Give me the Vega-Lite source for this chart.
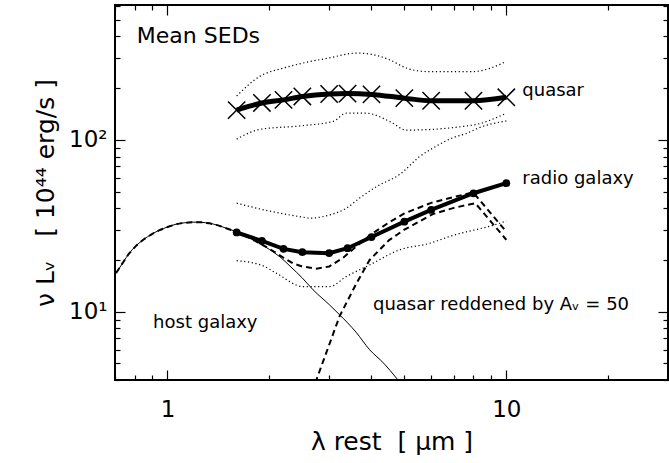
{
  "$schema": "https://vega.github.io/schema/vega-lite/v6.json",
  "width": 553,
  "height": 375,
  "autosize": "none",
  "padding": {"left": 115, "top": 5, "right": 1, "bottom": 83},
  "background": "white",
  "config": {
    "font": "DejaVu Sans",
    "view": {"stroke": "black", "strokeWidth": 2},
    "axis": {"domain": false, "grid": false, "tickColor": "black", "labelColor": "black", "titleColor": "black", "tickWidth": 1.2, "titleFontWeight": "normal", "labelFont": "DejaVu Sans", "titleFont": "DejaVu Sans"}
  },
  "datasets": {
    "host": [
      {"x": 0.68, "y": 15.0}, {"x": 0.7, "y": 16.4}, {"x": 0.74, "y": 19.4}, {"x": 0.77, "y": 21.8}, {"x": 0.81, "y": 24.3}, {"x": 0.85, "y": 26.3},
      {"x": 0.9, "y": 28.3}, {"x": 0.95, "y": 29.9}, {"x": 1.0, "y": 31.1}, {"x": 1.06, "y": 32.3}, {"x": 1.12, "y": 32.9}, {"x": 1.19, "y": 33.2},
      {"x": 1.26, "y": 33.1}, {"x": 1.33, "y": 32.7}, {"x": 1.41, "y": 31.8}, {"x": 1.49, "y": 30.6}, {"x": 1.58, "y": 29.4}, {"x": 1.67, "y": 28.0},
      {"x": 1.77, "y": 26.5}, {"x": 1.87, "y": 25.0}, {"x": 2.0, "y": 23.0}, {"x": 2.15, "y": 20.8}, {"x": 2.3, "y": 18.4}, {"x": 2.5, "y": 15.7},
      {"x": 2.69, "y": 13.4}, {"x": 3.0, "y": 11.0}, {"x": 3.22, "y": 9.6}, {"x": 3.6, "y": 7.6}, {"x": 3.95, "y": 6.0}, {"x": 4.35, "y": 5.0},
      {"x": 4.74, "y": 4.1}, {"x": 5.0, "y": 3.6}
    ],
    "composite": [
      {"x": 0.68, "y": 15.0}, {"x": 0.7, "y": 16.4}, {"x": 0.74, "y": 19.4}, {"x": 0.77, "y": 21.8}, {"x": 0.81, "y": 24.3}, {"x": 0.85, "y": 26.3},
      {"x": 0.9, "y": 28.3}, {"x": 0.95, "y": 29.9}, {"x": 1.0, "y": 31.1}, {"x": 1.06, "y": 32.3}, {"x": 1.12, "y": 32.9}, {"x": 1.19, "y": 33.2},
      {"x": 1.26, "y": 33.1}, {"x": 1.33, "y": 32.7}, {"x": 1.41, "y": 31.8}, {"x": 1.49, "y": 30.6}, {"x": 1.58, "y": 29.4}, {"x": 1.67, "y": 28.0},
      {"x": 1.77, "y": 26.5}, {"x": 1.87, "y": 25.0}, {"x": 2.0, "y": 23.2}, {"x": 2.2, "y": 20.6}, {"x": 2.35, "y": 19.1}, {"x": 2.5, "y": 18.3},
      {"x": 2.75, "y": 17.8}, {"x": 3.0, "y": 18.3}, {"x": 3.3, "y": 20.6}, {"x": 3.6, "y": 23.9}, {"x": 4.0, "y": 28.3}, {"x": 4.5, "y": 33.0},
      {"x": 5.0, "y": 37.3}, {"x": 6.0, "y": 43.0}, {"x": 7.0, "y": 46.5}, {"x": 7.98, "y": 49.5}, {"x": 10.0, "y": 29.2}
    ],
    "reddened": [
      {"x": 2.6, "y": 3.0}, {"x": 2.75, "y": 4.0}, {"x": 3.22, "y": 9.4}, {"x": 3.61, "y": 14.6}, {"x": 3.95, "y": 20.0}, {"x": 4.5, "y": 26.0},
      {"x": 5.0, "y": 30.0}, {"x": 6.07, "y": 37.0}, {"x": 7.0, "y": 40.2}, {"x": 8.1, "y": 42.8}, {"x": 10.0, "y": 26.2}
    ],
    "quasar": [
      {"x": 1.6, "y": 149}, {"x": 1.9, "y": 164}, {"x": 2.2, "y": 171}, {"x": 2.5, "y": 179}, {"x": 3.0, "y": 185}, {"x": 3.4, "y": 186},
      {"x": 4.0, "y": 184}, {"x": 5.0, "y": 175}, {"x": 6.0, "y": 169}, {"x": 8.0, "y": 169}, {"x": 10.0, "y": 177}
    ],
    "radio": [
      {"x": 1.6, "y": 28.9}, {"x": 1.9, "y": 25.8}, {"x": 2.2, "y": 23.2}, {"x": 2.5, "y": 22.2}, {"x": 3.0, "y": 21.9}, {"x": 3.4, "y": 23.4},
      {"x": 4.0, "y": 27.2}, {"x": 5.0, "y": 33.4}, {"x": 6.0, "y": 39.1}, {"x": 8.0, "y": 48.9}, {"x": 10.0, "y": 56.0}
    ],
    "qhi": [
      {"x": 1.6, "y": 180}, {"x": 1.87, "y": 234}, {"x": 2.2, "y": 262}, {"x": 2.51, "y": 280}, {"x": 3.0, "y": 300}, {"x": 3.6, "y": 320},
      {"x": 4.0, "y": 315}, {"x": 4.53, "y": 292}, {"x": 5.07, "y": 262}, {"x": 5.81, "y": 250}, {"x": 7.97, "y": 250}, {"x": 10.0, "y": 286}
    ],
    "qlo": [
      {"x": 1.6, "y": 101}, {"x": 1.87, "y": 115}, {"x": 2.5, "y": 121}, {"x": 3.08, "y": 128}, {"x": 3.37, "y": 143}, {"x": 3.86, "y": 143},
      {"x": 4.53, "y": 128}, {"x": 5.07, "y": 114}, {"x": 7.97, "y": 122}, {"x": 10.0, "y": 143}
    ],
    "rhi": [
      {"x": 1.6, "y": 42.8}, {"x": 2.0, "y": 38.5}, {"x": 2.51, "y": 35.5}, {"x": 2.63, "y": 35.0}, {"x": 3.0, "y": 36.5}, {"x": 3.37, "y": 40.0},
      {"x": 3.7, "y": 46.0}, {"x": 4.14, "y": 53.5}, {"x": 4.85, "y": 63.0}, {"x": 5.55, "y": 80.0}, {"x": 6.07, "y": 89.5}, {"x": 6.96, "y": 103},
      {"x": 7.62, "y": 109}, {"x": 8.34, "y": 118}, {"x": 10.0, "y": 129}
    ],
    "rlo": [
      {"x": 1.6, "y": 19.8}, {"x": 1.9, "y": 18.6}, {"x": 2.1, "y": 16.7}, {"x": 2.51, "y": 14.0}, {"x": 3.01, "y": 14.0}, {"x": 3.37, "y": 16.0},
      {"x": 3.95, "y": 18.7}, {"x": 4.84, "y": 22.9}, {"x": 5.94, "y": 25.0}, {"x": 6.8, "y": 27.4}, {"x": 9.56, "y": 32.7}, {"x": 10.0, "y": 33.7}
    ],
    "titles": [
      {"x": 0.812, "y": 367, "text": "Mean SEDs"}
    ],
    "notes": [
      {"x": 11.15, "y": 179, "text": "quasar"},
      {"x": 11.15, "y": 55.2, "text": "radio galaxy"},
      {"x": 0.907, "y": 8.0, "text": "host galaxy"},
      {"x": 4.04, "y": 10.2, "text": "quasar reddened by Aᵥ = 50"}
    ]
  },
  "resolve": {"axis": {"x": "independent", "y": "independent"}},
  "layer": [
    {
      "data": {"name": "host"},
      "mark": {"type": "line", "clip": true, "color": "black", "strokeWidth": 1, "interpolate": "monotone"},
      "encoding": {
        "x": {"field": "x", "type": "quantitative",
          "scale": {"type": "log", "domain": [0.7, 30], "nice": false, "zero": false},
          "axis": {"orient": "bottom", "title": "λ rest\u00a0\u00a0[ μm ]", "titleFontSize": 25, "titlePadding": 8,
            "values": [0.7, 0.8, 0.9, 1, 2, 3, 4, 5, 6, 7, 8, 9, 10, 20, 30],
            "labelExpr": "datum.value == 1 ? '1' : (datum.value == 10 ? '10' : '')",
            "labelFontSize": 23, "labelPadding": 28, "labelFlush": false,
            "tickSize": {"condition": {"test": "datum.value == 1 || datum.value == 10", "value": -10}, "value": -5}}},
        "y": {"field": "y", "type": "quantitative",
          "scale": {"type": "log", "domain": [4, 610], "nice": false, "zero": false},
          "axis": {"orient": "left", "title": "ν Lᵥ\u00a0\u00a0\u00a0[ 10⁴⁴ erg/s ]", "titleFontSize": 25, "titlePadding": 10,
            "values": [4, 5, 6, 7, 8, 9, 10, 20, 30, 40, 50, 60, 70, 80, 90, 100, 200, 300, 400, 500, 600],
            "labelExpr": "datum.value == 10 ? '10¹' : (datum.value == 100 ? '10²' : '')",
            "labelFontSize": 23, "labelPadding": 18, "labelFlush": false,
            "tickSize": {"condition": {"test": "datum.value == 10 || datum.value == 100", "value": -10}, "value": -5}}}
      }
    },
    {
      "data": {"name": "composite"},
      "mark": {"type": "line", "clip": true, "color": "black", "strokeWidth": 2, "strokeDash": [6, 4]},
      "encoding": {
        "x": {"field": "x", "type": "quantitative",
          "axis": {"orient": "top", "title": null, "labels": false,
            "values": [0.7, 0.8, 0.9, 1, 2, 3, 4, 5, 6, 7, 8, 9, 10, 20, 30],
            "tickSize": {"condition": {"test": "datum.value == 1 || datum.value == 10", "value": -10}, "value": -5}}},
        "y": {"field": "y", "type": "quantitative",
          "axis": {"orient": "right", "title": null, "labels": false,
            "values": [4, 5, 6, 7, 8, 9, 10, 20, 30, 40, 50, 60, 70, 80, 90, 100, 200, 300, 400, 500, 600],
            "tickSize": {"condition": {"test": "datum.value == 10 || datum.value == 100", "value": -10}, "value": -5}}}
      }
    },
    {
      "data": {"name": "reddened"},
      "mark": {"type": "line", "clip": true, "color": "black", "strokeWidth": 2, "strokeDash": [6, 4]},
      "encoding": {
        "x": {"field": "x", "type": "quantitative", "axis": null},
        "y": {"field": "y", "type": "quantitative", "axis": null}
      }
    },
    {
      "data": {"name": "qhi"},
      "mark": {"type": "line", "color": "black", "strokeWidth": 1.2, "strokeDash": [1.2, 2.6], "interpolate": "monotone"},
      "encoding": {
        "x": {"field": "x", "type": "quantitative", "axis": null},
        "y": {"field": "y", "type": "quantitative", "axis": null}
      }
    },
    {
      "data": {"name": "qlo"},
      "mark": {"type": "line", "color": "black", "strokeWidth": 1.2, "strokeDash": [1.2, 2.6], "interpolate": "monotone"},
      "encoding": {
        "x": {"field": "x", "type": "quantitative", "axis": null},
        "y": {"field": "y", "type": "quantitative", "axis": null}
      }
    },
    {
      "data": {"name": "rhi"},
      "mark": {"type": "line", "color": "black", "strokeWidth": 1.2, "strokeDash": [1.2, 2.6], "interpolate": "monotone"},
      "encoding": {
        "x": {"field": "x", "type": "quantitative", "axis": null},
        "y": {"field": "y", "type": "quantitative", "axis": null}
      }
    },
    {
      "data": {"name": "rlo"},
      "mark": {"type": "line", "color": "black", "strokeWidth": 1.2, "strokeDash": [1.2, 2.6], "interpolate": "monotone"},
      "encoding": {
        "x": {"field": "x", "type": "quantitative", "axis": null},
        "y": {"field": "y", "type": "quantitative", "axis": null}
      }
    },
    {
      "data": {"name": "quasar"},
      "mark": {"type": "line", "color": "black", "strokeWidth": 5, "interpolate": "monotone"},
      "encoding": {
        "x": {"field": "x", "type": "quantitative", "axis": null},
        "y": {"field": "y", "type": "quantitative", "axis": null}
      }
    },
    {
      "data": {"name": "quasar"},
      "mark": {"type": "point", "shape": "M-1,-1L1,1M-1,1L1,-1", "size": 300, "filled": false, "stroke": "black", "strokeWidth": 1.5, "opacity": 1},
      "encoding": {
        "x": {"field": "x", "type": "quantitative", "axis": null},
        "y": {"field": "y", "type": "quantitative", "axis": null}
      }
    },
    {
      "data": {"name": "radio"},
      "mark": {"type": "line", "color": "black", "strokeWidth": 4},
      "encoding": {
        "x": {"field": "x", "type": "quantitative", "axis": null},
        "y": {"field": "y", "type": "quantitative", "axis": null}
      }
    },
    {
      "data": {"name": "radio"},
      "mark": {"type": "point", "shape": "circle", "size": 60, "filled": true, "color": "black", "opacity": 1},
      "encoding": {
        "x": {"field": "x", "type": "quantitative", "axis": null},
        "y": {"field": "y", "type": "quantitative", "axis": null}
      }
    },
    {
      "data": {"name": "titles"},
      "mark": {"type": "text", "align": "left", "baseline": "alphabetic", "fontSize": 22, "color": "black"},
      "encoding": {
        "x": {"field": "x", "type": "quantitative", "axis": null},
        "y": {"field": "y", "type": "quantitative", "axis": null},
        "text": {"field": "text"}
      }
    },
    {
      "data": {"name": "notes"},
      "mark": {"type": "text", "align": "left", "baseline": "alphabetic", "fontSize": 18, "color": "black"},
      "encoding": {
        "x": {"field": "x", "type": "quantitative", "axis": null},
        "y": {"field": "y", "type": "quantitative", "axis": null},
        "text": {"field": "text"}
      }
    }
  ]
}
